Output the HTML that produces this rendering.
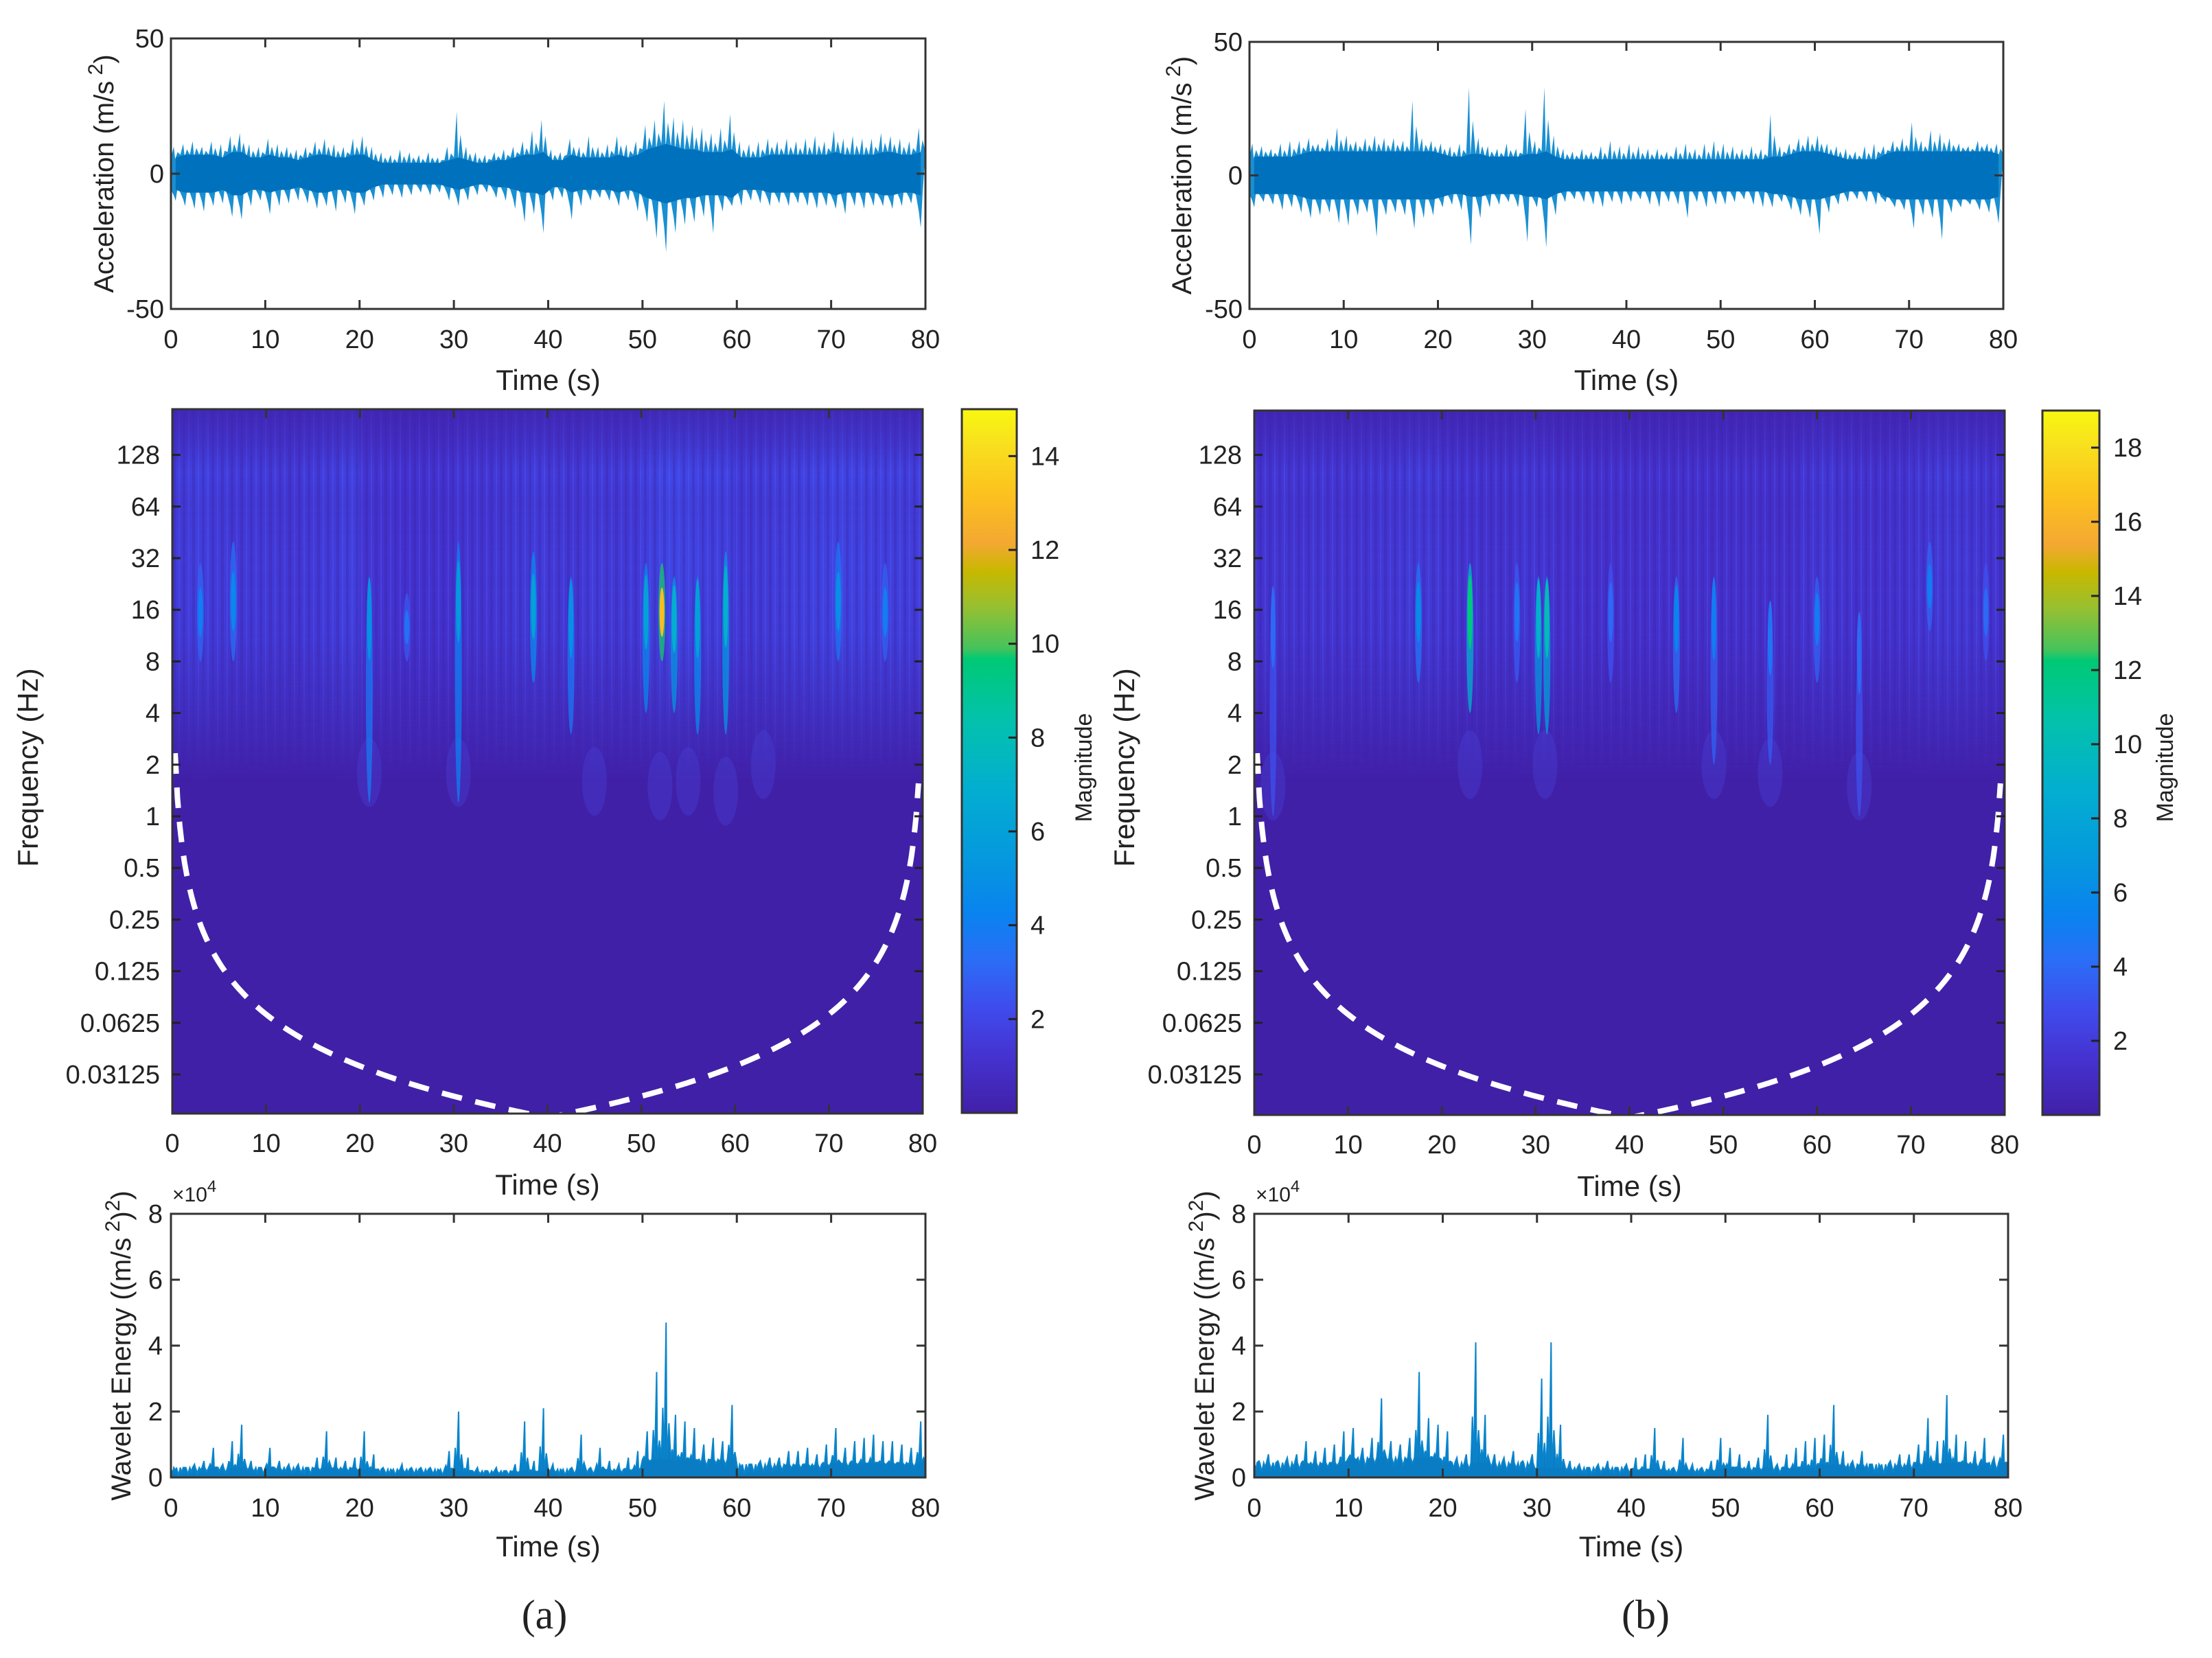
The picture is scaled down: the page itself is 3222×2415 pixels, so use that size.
<!DOCTYPE html>
<html><head><meta charset="utf-8"><style>
html,body{margin:0;padding:0;background:#fff;}
svg{display:block;font-family:"Liberation Sans",Arial,sans-serif;}
</style></head><body>
<svg id="fig" width="3222" height="2415" viewBox="0 0 3222 2415" xmlns="http://www.w3.org/2000/svg">
<defs id="defs"></defs>
</svg>
<script>
// ---------- DATA ----------
const timeTicks = [0,10,20,30,40,50,60,70,80];
const accTicks = [-50,0,50];
const freqTicks = [128,64,32,16,8,4,2,1,0.5,0.25,0.125,0.0625,0.03125];
const freqTickLabels = ["128","64","32","16","8","4","2","1","0.5","0.25","0.125","0.0625","0.03125"];
const energyTicks = [0,2,4,6,8];
const cbarTicksA = [2,4,6,8,10,12,14];
const cbarTicksB = [2,4,6,8,10,12,14,16,18];

// acceleration per-second envelopes (m/s^2)
const accMaxA = [10,11,12,10,12,11,14,15,11,10,13,11,10,9,10,12,13,11,10,13,14,10,8,7,9,8,7,8,6,10,23,10,8,7,8,9,10,12,16,20,9,8,13,10,14,10,11,14,11,12,18,20,27,21,20,18,17,15,17,22,12,11,12,13,12,13,12,13,14,12,16,13,14,13,13,15,14,13,12,17];
const accMinA = [-10,-12,-13,-14,-12,-11,-16,-17,-12,-10,-15,-12,-11,-10,-11,-13,-12,-14,-11,-15,-12,-10,-9,-8,-9,-8,-7,-8,-7,-10,-12,-10,-8,-7,-9,-10,-13,-18,-15,-22,-10,-9,-17,-12,-10,-9,-10,-12,-10,-14,-18,-24,-29,-22,-19,-18,-16,-22,-14,-12,-12,-10,-11,-12,-11,-12,-11,-12,-13,-12,-13,-15,-12,-13,-12,-12,-13,-12,-11,-20];
const accCoreA = [6,7,7,7,7,6,8,8,6,6,7,6,6,5,6,7,7,6,6,7,7,5,4,4,4,4,4,4,4,5,6,5,4,4,5,5,6,7,7,8,5,5,7,6,6,6,6,7,6,7,9,10,11,10,9,9,8,8,8,9,6,6,6,7,7,7,7,7,7,7,8,7,7,7,7,8,8,7,7,8];
const accMaxB = [12,11,10,12,13,13,14,12,14,18,15,13,14,15,14,14,13,28,14,13,12,11,12,33,14,11,10,12,10,25,13,33,15,10,9,10,9,11,13,11,12,11,10,10,9,11,12,10,12,13,12,11,10,11,10,23,11,12,14,15,15,12,11,10,9,11,12,11,13,14,20,13,17,16,14,12,11,13,12,12];
const accMinB = [-12,-10,-11,-13,-12,-14,-16,-15,-14,-18,-19,-15,-14,-23,-15,-14,-15,-20,-16,-15,-12,-11,-13,-26,-16,-12,-11,-10,-12,-25,-12,-27,-15,-10,-9,-10,-11,-12,-10,-11,-10,-9,-11,-12,-10,-11,-16,-10,-12,-11,-11,-10,-9,-11,-12,-12,-10,-13,-15,-16,-22,-14,-11,-10,-9,-10,-11,-10,-12,-13,-20,-15,-16,-24,-14,-12,-11,-13,-14,-18];
const accCoreB = [7,7,7,7,7,8,9,9,9,9,9,9,9,9,9,9,9,9,9,9,8,7,7,8,8,7,7,7,7,8,8,9,7,6,6,6,6,6,6,6,6,6,6,6,6,6,6,6,6,6,6,6,6,6,6,7,7,8,9,9,9,8,7,6,6,6,6,8,9,9,9,9,9,9,9,9,9,9,9,8];

// wavelet energy per-second peaks (x1e4)
const energyPeakA = [.2,.3,.4,.5,.9,.4,1.1,1.6,.5,.3,.9,.5,.4,.4,.3,.6,1.4,.6,.5,.6,1.4,.7,.3,.2,.4,.3,.3,.3,.2,.8,2.0,.6,.3,.2,.3,.2,.4,1.7,.5,2.1,.4,.2,.3,1.3,.3,.9,.5,.4,.6,.8,1.4,3.2,4.7,1.9,1.7,1.5,1.0,1.2,1.1,2.2,.3,.4,.5,.6,.6,.8,.8,.9,.7,1.0,1.5,.9,1.1,1.2,1.3,1.1,1.1,1.0,.9,1.7];
const energyBaseA = [.3,.3,.25,.2,.25,.55,.4,.45];
const energyPeakB = [.5,.7,.5,.6,.7,1.1,.8,.9,1.0,1.4,1.5,.9,1.2,2.4,1.1,1.0,1.2,3.2,1.8,1.6,1.4,.6,.7,4.1,1.9,.7,.6,.8,.5,.7,3.0,4.1,1.6,.5,.4,.3,.4,.5,.3,.4,.6,.7,1.5,.5,.3,1.2,.4,.3,.5,1.2,.9,.7,.5,.6,1.9,.4,.7,.9,1.1,1.2,1.3,2.2,.8,.5,.8,.4,.3,.5,.7,.7,1.0,1.8,1.1,2.5,1.3,1.1,.8,1.2,.6,1.3];
const energyBaseB = [.45,.6,.45,.3,.25,.3,.4,.45];

// scalogram high-band intensity per 2 s (magnitude)
const bandA = [2.4,2.6,2.4,2.2,2.3,2.2,2.1,2.3,2.4,2.6,2.0,1.9,1.8,1.8,1.8,2.0,2.0,2.1,2.3,2.4,2.2,2.1,2.4,2.2,2.3,2.7,3.0,2.9,2.7,2.7,2.3,2.4,2.5,2.7,2.8,2.9,2.8,2.7,2.6,2.5];
const bandB = [2.5,2.6,2.5,2.6,2.5,2.5,2.6,2.7,2.9,2.8,2.5,2.4,2.3,2.3,2.6,2.5,2.2,2.1,2.1,2.2,2.1,2.2,2.1,2.2,2.1,2.2,2.2,2.1,2.1,2.5,2.7,2.4,2.3,2.2,2.3,2.6,2.8,2.8,2.7,2.5];
// streak events: time, top freq, bottom freq, magnitude
const eventTimeA = [3,6.5,21,25,30.5,38.5,42.5,50.5,52.2,53.5,56,59,71,76];
const eventTopA  = [30,40,25,20,40,35,25,30,30,25,25,35,40,30];
const eventBotA  = [8,8,1.2,8,1.2,6,3,4,8,4,3,3,8,8];
const eventMagA  = [4,4.5,5,3.5,5.5,6,5,6,13,7,6,7,5,4];
const blobTimeA = [21,30.5,45,52,55,59,63];
const blobFreqA = [1.8,1.8,1.6,1.5,1.6,1.4,2];
const eventTimeB = [2,17.5,23,28,30.3,31.2,38,45,49,55,60,64.5,72,78];
const eventTopB  = [20,30,30,30,25,25,30,25,25,15,25,10,40,30];
const eventBotB  = [1,6,4,6,3,3,6,4,2,2,6,1,12,8];
const eventMagB  = [4,6,12,4.5,9,10,4,5.5,5,4.5,5,4,5,4];
const blobTimeB = [2,23,31,49,55,64.5];
const blobFreqB = [1.5,2,2,2,1.8,1.5];

// parula-like colormap stops
const cmapPos = [0,0.08,0.15,0.22,0.28,0.36,0.46,0.56,0.645,0.66,0.72,0.77,0.81,0.88,0.95,1];
const cmapCol = ["#4120a8","#4532d0","#3f4ced","#2a6ef6","#0a82f0","#0598de","#03aed0","#03c2ab","#00c975","#45c35c","#98c030","#c8b800","#f4a832","#fcc21e","#f8e01e","#f8f810"];

// ---------- HELPERS ----------
const NS="http://www.w3.org/2000/svg";
const svg=document.getElementById('fig');
const defs=document.getElementById('defs');
function mk(tag,attrs,parent){const e=document.createElementNS(NS,tag);for(const k in attrs)e.setAttribute(k,attrs[k]);(parent||svg).appendChild(e);return e;}
function hex(c){return [parseInt(c.substr(1,2),16),parseInt(c.substr(3,2),16),parseInt(c.substr(5,2),16)];}
function cmap(v){v=Math.max(0,Math.min(1,v));for(let i=1;i<cmapPos.length;i++){if(v<=cmapPos[i]){const t=(v-cmapPos[i-1])/(cmapPos[i]-cmapPos[i-1]);const a=hex(cmapCol[i-1]),b=hex(cmapCol[i]);return 'rgb('+a.map((x,j)=>Math.round(x+(b[j]-x)*t)).join(',')+')';}}return cmapCol[cmapCol.length-1];}
function txt(x,y,s,attrs,name){const t=mk('text',Object.assign({x:x,y:y,fill:'#222'},attrs));t.textContent=s;return t;}

function axesBox(b,name){
  const r=mk('rect',{x:b.x0,y:b.y0,width:b.x1-b.x0,height:b.y1-b.y0,fill:'none',stroke:'#333','stroke-width':3});
  
  
}
function timeAxis(b,xs,labelY,titleY,name){
  timeTicks.forEach(t=>{
    const x=xs(t);
    mk('line',{x1:x,y1:b.y1,x2:x,y2:b.y1-13,stroke:'#333','stroke-width':3});
    mk('line',{x1:x,y1:b.y0,x2:x,y2:b.y0+13,stroke:'#333','stroke-width':3});
    txt(x,labelY,String(t),{'font-size':38,'text-anchor':'middle'},'x-tick-label');
  });
  txt((b.x0+b.x1)/2,titleY,'Time (s)',{'font-size':42,'text-anchor':'middle'},name+'-x-axis-title');
}

// ---------- ACCELERATION ----------
function accPlot(b,mx,mn,core,name,labelX){
  const xs=t=>b.x0+(b.x1-b.x0)*t/80;
  const ys=v=>b.y0+(b.y1-b.y0)*(50-v)/100;
  let up='',lo='';
  for(let i=0;i<mx.length;i++){
    up+=(i?'L':'M')+xs(i)+','+ys(core[i])+' L'+xs(i+0.3)+','+ys(mx[i])+' L'+xs(i+0.45)+','+ys(core[i]*0.9)+' L'+xs(i+0.7)+','+ys((mx[i]+core[i])/2)+' ';
  }
  up+='L'+xs(80)+','+ys(core[mx.length-1]);
  for(let i=mn.length-1;i>=0;i--){
    lo+='L'+xs(i+0.7)+','+ys(-core[i]*0.9)+' L'+xs(i+0.5)+','+ys(mn[i])+' L'+xs(i+0.3)+','+ys((mn[i]-core[i])/2)+' L'+xs(i)+','+ys(-core[i])+' ';
  }
  const env=mk('path',{d:up+lo+'Z',fill:'#1a8fd2'});
  
  
  let c='';
  for(let i=0;i<core.length;i++)c+=(i?'L':'M')+xs(i+0.5)+','+ys(core[i]);
  for(let i=core.length-1;i>=0;i--)c+='L'+xs(i+0.5)+','+ys(-core[i]);
  const cp=mk('path',{d:c+'Z',fill:'#0072bd'});
  
  
  axesBox(b,name+'-acceleration-axes');
  accTicks.forEach(v=>{
    mk('line',{x1:b.x0,y1:ys(v),x2:b.x0+13,y2:ys(v),stroke:'#333','stroke-width':3});
    mk('line',{x1:b.x1,y1:ys(v),x2:b.x1-13,y2:ys(v),stroke:'#333','stroke-width':3});
    txt(b.x0-10,ys(v)+13,String(v),{'font-size':38,'text-anchor':'end'},'y-tick-label');
  });
  timeAxis(b,xs,b.y1+57,b.y1+118,name+'-acceleration');
  const yl=txt(0,0,'',{'font-size':40,'text-anchor':'middle',transform:'translate('+labelX+','+((b.y0+b.y1)/2)+') rotate(-90)'},name+'-acceleration-y-title');
  yl.innerHTML='Acceleration (m/s<tspan dy="-16" font-size="30"> 2</tspan><tspan dy="16">)</tspan>';
}

// ---------- SCALOGRAM ----------
function specPlot(b,cb,band,eT,eTop,eBot,eMag,blT,blF,cmax,cticks,name,fLabelX,mLabelX){
  const xs=t=>b.x0+(b.x1-b.x0)*t/80;
  const fy=f=>1565-(Math.log2(f)+5)*75.2;
  const cid='clip-'+name;
  const cl=mk('clipPath',{id:cid},defs);
  mk('rect',{x:b.x0,y:b.y0,width:b.x1-b.x0,height:b.y1-b.y0},cl);
  const g=mk('g',{'clip-path':'url(#'+cid+')'});
  
  
  mk('rect',{x:b.x0,y:b.y0,width:b.x1-b.x0,height:b.y1-b.y0,fill:cmap(0)},g);
  const gid='bandfade-'+name;
  const lg=mk('linearGradient',{id:gid,x1:0,y1:0,x2:0,y2:1},defs);
  [[0,0.25],[0.1,0.6],[0.17,0.95],[0.25,0.8],[0.4,0.9],[0.6,0.85],[0.8,0.45],[1,0]].forEach(s=>mk('stop',{offset:s[0],'stop-color':'#fff','stop-opacity':s[1]},lg));
  const mid='mask-'+name;
  const m=mk('mask',{id:mid},defs);
  mk('rect',{x:b.x0,y:b.y0,width:b.x1-b.x0,height:fy(1.6)-b.y0,fill:'url(#'+gid+')'},m);
  const bg=mk('g',{mask:'url(#'+mid+')'},g);
  band.forEach((v,i)=>{
    const r=mk('rect',{x:xs(i*2)-1,y:b.y0,width:xs(2)-xs(0)+2,height:fy(1.6)-b.y0,fill:cmap(v/cmax*0.72)},bg);
    
    
  });
  // fine streak texture
  const pid='tex-'+name;
  const pat=mk('pattern',{id:pid,width:14,height:400,patternUnits:'userSpaceOnUse'},defs);
  mk('rect',{x:0,y:0,width:4,height:400,fill:'#3a22a0',opacity:0.35},pat);
  mk('rect',{x:8,y:0,width:2,height:400,fill:'#5a66f5',opacity:0.3},pat);
  mk('rect',{x:b.x0,y:b.y0,width:b.x1-b.x0,height:fy(2)-b.y0,fill:'url(#'+pid+')',mask:'url(#'+mid+')'},g);
  blT.forEach((t,i)=>{
    const e=mk('ellipse',{cx:xs(t),cy:fy(blF[i]),rx:18,ry:50,fill:'#4848e0',opacity:0.3},g);
    
    
  });
  eT.forEach((t,i)=>{
    const y1=fy(eTop[i]),y2=fy(eBot[i]);
    const e=mk('ellipse',{cx:xs(t),cy:(y1+y2)/2,rx:5,ry:(y2-y1)/2,fill:cmap(eMag[i]/cmax*0.75),opacity:0.75},g);
    
    
    const c=mk('ellipse',{cx:xs(t),cy:fy(Math.sqrt(eTop[i]*Math.max(eBot[i],8))),rx:3.5,ry:Math.min(60,(y2-y1)/4),fill:cmap(eMag[i]/cmax)},g);
    
    
  });
  let d='';
  for(let t=0.3;t<=79.7;t+=0.25){const dd=Math.min(t,80-t);const y=fy(0.7/dd);d+=(d?'L':'M')+xs(t)+','+Math.min(y,b.y1+30);}
  const coi=mk('path',{d:d,fill:'none',stroke:'#fff','stroke-width':8,'stroke-dasharray':'30 20'},g);
  
  
  axesBox(b,name+'-scalogram-axes');
  freqTicks.forEach((f,i)=>{
    const y=fy(f);
    mk('line',{x1:b.x0,y1:y,x2:b.x0+12,y2:y,stroke:'#222','stroke-width':3});
    mk('line',{x1:b.x1,y1:y,x2:b.x1-12,y2:y,stroke:'#222','stroke-width':3});
    txt(b.x0-18,y+13,freqTickLabels[i],{'font-size':38,'text-anchor':'end'},'frequency-tick-label');
  });
  timeAxis(b,xs,b.y1+56,b.y1+118,name+'-scalogram');
  txt(0,0,'Frequency (Hz)',{'font-size':42,'text-anchor':'middle',transform:'translate('+fLabelX+',1118) rotate(-90)'},name+'-frequency-y-title');
  const cg='cbar-'+name;
  const clg=mk('linearGradient',{id:cg,x1:0,y1:1,x2:0,y2:0},defs);
  cmapPos.forEach((p,i)=>mk('stop',{offset:p,'stop-color':cmapCol[i]},clg));
  const cr=mk('rect',{x:cb.x0,y:cb.y0,width:cb.x1-cb.x0,height:cb.y1-cb.y0,fill:'url(#'+cg+')',stroke:'#333','stroke-width':3});
  
  
  const cy=v=>cb.y1-(cb.y1-cb.y0)*v/cmax;
  cticks.forEach(v=>{
    mk('line',{x1:cb.x1,y1:cy(v),x2:cb.x1-12,y2:cy(v),stroke:'#222','stroke-width':3});
    txt(cb.x1+20,cy(v)+13,String(v),{'font-size':38},'colorbar-tick-label');
  });
  txt(0,0,'Magnitude',{'font-size':34,'text-anchor':'middle',transform:'translate('+mLabelX+',1118) rotate(-90)'},name+'-colorbar-title');
}

// ---------- ENERGY ----------
function energyPlot(b,peak,base,name,labelX){
  const xs=t=>b.x0+(b.x1-b.x0)*t/80;
  const ys=v=>b.y1-(b.y1-b.y0)*v/8;
  let d='M'+xs(0)+','+ys(0);
  for(let i=0;i<peak.length;i++){
    const bs=base[Math.floor(i/10)];
    d+=' L'+xs(i)+','+ys(bs)+' L'+xs(i+0.15)+','+ys(peak[i]*0.45)+' L'+xs(i+0.3)+','+ys(bs)+' L'+xs(i+0.5)+','+ys(peak[i])+' L'+xs(i+0.58)+','+ys(bs)+' L'+xs(i+0.8)+','+ys(peak[i]*0.35);
  }
  d+=' L'+xs(80)+','+ys(base[7])+' L'+xs(80)+','+ys(0)+'Z';
  const p=mk('path',{d:d,fill:'#0a7cc4',stroke:'#0a85cc','stroke-width':2,'stroke-linejoin':'miter'});
  
  
  axesBox(b,name+'-energy-axes');
  energyTicks.forEach(v=>{
    mk('line',{x1:b.x0,y1:ys(v),x2:b.x0+13,y2:ys(v),stroke:'#333','stroke-width':3});
    mk('line',{x1:b.x1,y1:ys(v),x2:b.x1-13,y2:ys(v),stroke:'#333','stroke-width':3});
    txt(b.x0-12,ys(v)+13,String(v),{'font-size':38,'text-anchor':'end'},'y-tick-label');
  });
  const ex=txt(b.x0+2,b.y0-18,'',{'font-size':30},'exponent-label');
  ex.innerHTML='×10<tspan dy="-14" font-size="24">4</tspan>';
  timeAxis(b,xs,b.y1+57,b.y1+115,name+'-energy');
  const yl=txt(0,0,'',{'font-size':40,'text-anchor':'middle',transform:'translate('+labelX+',1960) rotate(-90)'},name+'-energy-y-title');
  yl.innerHTML='Wavelet Energy ((m/s<tspan dy="-16" font-size="30"> 2</tspan><tspan dy="16">)</tspan><tspan dy="-16" font-size="30">2</tspan><tspan dy="16">)</tspan>';
}

accPlot({x0:249,x1:1348,y0:56,y1:450},accMaxA,accMinA,accCoreA,'panel-a',165);
accPlot({x0:1820,x1:2918,y0:61,y1:450},accMaxB,accMinB,accCoreB,'panel-b',1735);
specPlot({x0:251,x1:1344,y0:596,y1:1622},{x0:1401,x1:1481,y0:596,y1:1621},bandA,eventTimeA,eventTopA,eventBotA,eventMagA,blobTimeA,blobFreqA,15,cbarTicksA,'panel-a',55,1590);
specPlot({x0:1827,x1:2920,y0:598,y1:1624},{x0:2975,x1:3058,y0:598,y1:1624},bandB,eventTimeB,eventTopB,eventBotB,eventMagB,blobTimeB,blobFreqB,19,cbarTicksB,'panel-b',1652,3165);
energyPlot({x0:249,x1:1348,y0:1768,y1:2152},energyPeakA,energyBaseA,'panel-a',190);
energyPlot({x0:1827,x1:2925,y0:1768,y1:2152},energyPeakB,energyBaseB,'panel-b',1768);
txt(793,2372,'(a)',{'font-size':60,'text-anchor':'middle','font-family':'"Liberation Serif",serif'},'panel-a-caption');
txt(2397,2372,'(b)',{'font-size':60,'text-anchor':'middle','font-family':'"Liberation Serif",serif'},'panel-b-caption');
</script>
</body></html>
